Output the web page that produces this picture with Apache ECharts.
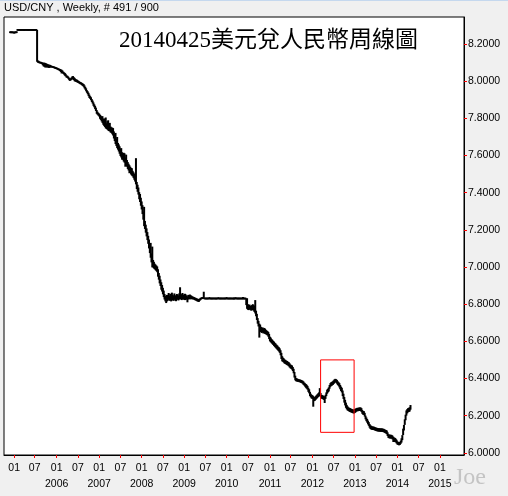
<!DOCTYPE html>
<html>
<head>
<meta charset="utf-8">
<script src="https://cdn.jsdelivr.net/npm/echarts@6/dist/echarts.min.js"></script>
<style>
html,body{margin:0;padding:0;background:#f0f0f0;}
#chart{width:508px;height:496px;}
</style>
</head>
<body>
<div id="chart"></div>
<script>
// ---- data ----
const headerText = 'USD/CNY , Weekly, # 491 / 900';
const titleText = '20140425美元兌人民幣周線圖';
const firstWeek = '2004-12-03';   // first weekly bar (Friday)
const leadWeeks = 7;              // empty slots before the first bar
const totalSlots = 563;           // slots on the time axis (incl. empty future weeks)
const lastClose = 6.2529;
const yTicks = [6.0, 6.2, 6.4, 6.6, 6.8, 7.0, 7.2, 7.4, 7.6, 7.8, 8.0, 8.2];
const yMin = 5.988, yMax = 8.346;
const boxWeeks = [380, 421];      // highlighted period (bar offsets)
const boxRange = [6.50, 6.11];

const weeklyLow = [
/*000*/ 8.2630,8.2625,8.2630,8.2620,8.2625,8.2580,8.2620,8.2625,8.2630,8.2760,
/*010*/ 8.2762,8.2760,8.2761,8.2762,8.2760,8.2761,8.2762,8.2760,8.2761,8.2762,
/*020*/ 8.2760,8.2761,8.2762,8.2760,8.2761,8.2762,8.2760,8.2761,8.2762,8.2760,
/*030*/ 8.2761,8.2762,8.2760,8.1050,8.1000,8.0980,8.0970,8.0960,8.0950,8.0920,
/*040*/ 8.0860,8.0800,8.0780,8.0740,8.0760,8.0740,8.0760,8.0720,8.0720,8.0740,
/*050*/ 8.0760,8.0740,8.0740,8.0720,8.0700,8.0680,8.0670,8.0650,8.0620,8.0600,
/*060*/ 8.0580,8.0550,8.0500,8.0420,8.0450,8.0400,8.0360,8.0300,8.0260,8.0200,
/*070*/ 8.0180,8.0140,8.0080,8.0020,8.0040,8.0080,8.0100,8.0120,8.0060,8.0000,
/*080*/ 7.9980,7.9960,7.9940,7.9920,7.9900,7.9860,7.9840,7.9820,7.9780,7.9750,
/*090*/ 7.9700,7.9620,7.9550,7.9460,7.9380,7.9300,7.9200,7.9100,7.9050,7.8980,
/*100*/ 7.8880,7.8800,7.8680,7.8600,7.8500,7.8400,7.8250,7.8200,7.8150,7.8100,
/*110*/ 7.7980,7.7920,7.7840,7.7760,7.7660,7.7600,7.7540,7.7470,7.7430,7.7400,
/*120*/ 7.7350,7.7320,7.7300,7.7240,7.7220,7.7150,7.7080,7.6920,7.6780,7.6620,
/*130*/ 7.6520,7.6400,7.6320,7.6220,7.6100,7.5980,7.5900,7.5780,7.5780,7.5680,
/*140*/ 7.5620,7.5400,7.5480,7.5400,7.5280,7.5200,7.5050,7.5080,7.4980,7.4920,
/*150*/ 7.4880,7.4800,7.4700,7.4600,7.4450,7.4200,7.4050,7.3900,7.3650,7.3500,
/*160*/ 7.3300,7.3100,7.2850,7.2550,7.2200,7.2050,7.1850,7.1650,7.1450,7.1250,
/*170*/ 7.1000,7.0750,7.0500,7.0250,6.9980,6.9980,6.9920,6.9880,6.9830,6.9780,
/*180*/ 6.9720,6.9480,6.9320,6.9120,6.8980,6.8780,6.8680,6.8530,6.8380,6.8250,
/*190*/ 6.8150,6.8060,6.8150,6.8200,6.8250,6.8180,6.8220,6.8150,6.8250,6.8200,
/*200*/ 6.8180,6.8260,6.8200,6.8160,6.8220,6.8280,6.8200,6.8250,6.8300,6.8260,
/*210*/ 6.8220,6.8280,6.8240,6.8260,6.8220,6.8280,6.8240,6.8100,6.8250,6.8280,
/*220*/ 6.8260,6.8300,6.8260,6.8280,6.8250,6.8260,6.8220,6.8200,6.8180,6.8150,
/*230*/ 6.8140,6.8120,6.8180,6.8220,6.8260,6.8280,6.8290,6.8300,6.8270,6.8268,
/*240*/ 6.8270,6.8265,6.8272,6.8268,6.8270,6.8262,6.8270,6.8268,6.8271,6.8266,
/*250*/ 6.8270,6.8268,6.8265,6.8272,6.8269,6.8270,6.8264,6.8270,6.8268,6.8271,
/*260*/ 6.8268,6.8270,6.8266,6.8270,6.8272,6.8268,6.8265,6.8270,6.8269,6.8271,
/*270*/ 6.8268,6.8270,6.8265,6.8270,6.8268,6.8266,6.8270,6.8272,6.8268,6.8270,
/*280*/ 6.8268,6.8270,6.8265,6.8270,6.8268,6.8260,6.8270,6.8268,6.8266,6.7950,
/*290*/ 6.7750,6.7700,6.7680,6.7720,6.7700,6.7650,6.7680,6.7700,6.7650,6.7580,
/*300*/ 6.7500,6.7350,6.7150,6.6950,6.6800,6.6200,6.6550,6.6500,6.6450,6.6500,
/*310*/ 6.6420,6.6450,6.6400,6.6380,6.6350,6.6320,6.6250,6.6120,6.6000,6.5950,
/*320*/ 6.5900,6.5850,6.5800,6.5750,6.5700,6.5650,6.5600,6.5550,6.5500,6.5450,
/*330*/ 6.5380,6.5250,6.5050,6.4920,6.4900,6.4850,6.4800,6.4780,6.4750,6.4720,
/*340*/ 6.4700,6.4660,6.4600,6.4550,6.4520,6.4480,6.4400,6.4280,6.4050,6.3900,
/*350*/ 6.3850,6.3840,6.3820,6.3820,6.3800,6.3790,6.3770,6.3750,6.3720,6.3660,
/*360*/ 6.3620,6.3560,6.3500,6.3450,6.3400,6.3280,6.3200,6.3050,6.2980,6.2920,
/*370*/ 6.2900,6.2480,6.2780,6.2800,6.2850,6.2900,6.2950,6.3000,6.3050,6.3080,
/*380*/ 6.3000,6.2920,6.2900,6.2880,6.2850,6.2680,6.2900,6.3050,6.3180,6.3250,
/*390*/ 6.3300,6.3450,6.3550,6.3600,6.3620,6.3650,6.3700,6.3750,6.3800,6.3780,
/*400*/ 6.3720,6.3650,6.3600,6.3520,6.3420,6.3320,6.3250,6.3050,6.2900,6.2700,
/*410*/ 6.2550,6.2420,6.2340,6.2280,6.2250,6.2220,6.2200,6.2180,6.2160,6.2140,
/*420*/ 6.2120,6.2120,6.2150,6.2180,6.2220,6.2240,6.2240,6.2250,6.2260,6.2250,
/*430*/ 6.2200,6.2100,6.2050,6.2040,6.1950,6.1800,6.1700,6.1620,6.1530,6.1450,
/*440*/ 6.1350,6.1280,6.1250,6.1240,6.1230,6.1230,6.1210,6.1190,6.1170,6.1160,
/*450*/ 6.1150,6.1140,6.1140,6.1130,6.1130,6.1130,6.1120,6.1110,6.1090,6.1060,
/*460*/ 6.1040,6.1000,6.0900,6.0800,6.0780,6.0770,6.0770,6.0760,6.0720,6.0580,
/*470*/ 6.0620,6.0580,6.0560,6.0500,6.0440,6.0420,6.0400,6.0420,6.0480,6.0550,
/*480*/ 6.0680,6.0950,6.1200,6.1500,6.1750,6.2000,6.2120,6.2180,6.2200,6.2220,
/*490*/ 6.2320
];
const weeklyHigh = [
/*000*/ 8.2650,8.2650,8.2645,8.2650,8.2640,8.2645,8.2650,8.2650,8.2655,8.2768,
/*010*/ 8.2768,8.2767,8.2768,8.2769,8.2768,8.2767,8.2768,8.2768,8.2767,8.2769,
/*020*/ 8.2768,8.2767,8.2768,8.2768,8.2769,8.2768,8.2767,8.2768,8.2768,8.2767,
/*030*/ 8.2768,8.2768,8.2767,8.2765,8.1120,8.1100,8.1060,8.1040,8.1040,8.1020,
/*040*/ 8.1000,8.1000,8.1000,8.0980,8.0960,8.0940,8.0920,8.0900,8.0890,8.0880,
/*050*/ 8.0840,8.0830,8.0810,8.0800,8.0790,8.0770,8.0750,8.0740,8.0720,8.0700,
/*060*/ 8.0680,8.0660,8.0640,8.0620,8.0580,8.0520,8.0480,8.0450,8.0400,8.0320,
/*070*/ 8.0300,8.0260,8.0200,8.0140,8.0160,8.0200,8.0260,8.0280,8.0220,8.0180,
/*080*/ 8.0120,8.0100,8.0080,8.0040,8.0020,7.9980,7.9960,7.9940,7.9900,7.9880,
/*090*/ 7.9850,7.9780,7.9700,7.9620,7.9520,7.9460,7.9380,7.9280,7.9200,7.9140,
/*100*/ 7.9040,7.8960,7.8860,7.8760,7.8680,7.8580,7.8450,7.8360,7.8300,7.8260,
/*110*/ 7.8200,7.8150,7.8100,7.8120,7.7960,7.8000,7.7800,7.8050,7.7740,7.7850,
/*120*/ 7.7900,7.7620,7.7760,7.7560,7.7520,7.7500,7.7480,7.7300,7.7160,7.7220,
/*130*/ 7.6900,7.7000,7.6680,7.6600,7.6500,7.6380,7.6400,7.6180,7.6100,7.6150,
/*140*/ 7.6120,7.5900,7.6050,7.5760,7.5650,7.5560,7.5480,7.5400,7.5340,7.5320,
/*150*/ 7.5180,7.5100,7.5030,7.4930,7.5860,7.4580,7.4430,7.4280,7.4030,7.3930,
/*160*/ 7.3730,7.3530,7.3330,7.2980,7.3240,7.2480,7.2280,7.2080,7.1880,7.1680,
/*170*/ 7.1480,7.1230,7.1300,7.0730,7.1100,7.0380,7.0280,7.0180,7.0130,7.0080,
/*180*/ 7.0030,6.9880,6.9680,6.9530,6.9330,6.9180,6.9030,6.8880,6.8730,6.8550,
/*190*/ 6.8450,6.8450,6.8500,6.8480,6.8600,6.8450,6.8560,6.8420,6.8620,6.8500,
/*200*/ 6.8450,6.8580,6.8480,6.8400,6.8550,6.8520,6.8460,6.8580,6.8910,6.8560,
/*210*/ 6.8500,6.8600,6.8520,6.8480,6.8560,6.8520,6.8450,6.8400,6.8500,6.8460,
/*220*/ 6.8520,6.8480,6.8450,6.8420,6.8400,6.8380,6.8360,6.8340,6.8320,6.8300,
/*230*/ 6.8280,6.8260,6.8300,6.8340,6.8360,6.8380,6.8370,6.8670,6.8345,6.8342,
/*240*/ 6.8340,6.8345,6.8338,6.8342,6.8380,6.8340,6.8344,6.8339,6.8342,6.8345,
/*250*/ 6.8340,6.8343,6.8340,6.8338,6.8345,6.8375,6.8341,6.8340,6.8344,6.8339,
/*260*/ 6.8342,6.8340,6.8344,6.8341,6.8339,6.8380,6.8343,6.8340,6.8342,6.8338,
/*270*/ 6.8345,6.8340,6.8342,6.8339,6.8341,6.8344,6.8376,6.8340,6.8342,6.8341,
/*280*/ 6.8343,6.8340,6.8345,6.8342,6.8340,6.8385,6.8341,6.8339,6.8342,6.8300,
/*290*/ 6.8320,6.8000,6.7950,6.7980,6.7920,6.7900,6.7950,6.8000,6.7950,6.7900,
/*300*/ 6.8220,6.7650,6.7480,6.7250,6.7100,6.6950,6.6900,6.6780,6.6720,6.6750,
/*310*/ 6.6680,6.6720,6.6680,6.6620,6.6580,6.6550,6.6500,6.6400,6.6250,6.6200,
/*320*/ 6.6120,6.6080,6.6020,6.5980,6.5920,6.5880,6.5820,6.5780,6.5720,6.5680,
/*330*/ 6.5620,6.5520,6.5380,6.5200,6.5120,6.5080,6.5020,6.5000,6.4960,6.4940,
/*340*/ 6.4900,6.4880,6.4820,6.4760,6.4720,6.4700,6.4620,6.4520,6.4350,6.4150,
/*350*/ 6.4020,6.4000,6.3980,6.3960,6.3950,6.3940,6.3920,6.3900,6.3880,6.3840,
/*360*/ 6.3780,6.3740,6.3700,6.3660,6.3600,6.3500,6.3420,6.3280,6.3180,6.3120,
/*370*/ 6.3100,6.3050,6.2980,6.3000,6.3050,6.3100,6.3150,6.3200,6.3250,6.3480,
/*380*/ 6.3220,6.3120,6.3100,6.3080,6.3050,6.3020,6.3120,6.3250,6.3400,6.3450,
/*390*/ 6.3520,6.3650,6.3750,6.3800,6.3820,6.3850,6.3900,6.3950,6.3980,6.3960,
/*400*/ 6.3920,6.3850,6.3800,6.3750,6.3650,6.3560,6.3500,6.3350,6.3180,6.3000,
/*410*/ 6.2850,6.2700,6.2580,6.2500,6.2450,6.2420,6.2400,6.2380,6.2360,6.2340,
/*420*/ 6.2320,6.2320,6.2350,6.2380,6.2400,6.2420,6.2420,6.2430,6.2440,6.2440,
/*430*/ 6.2400,6.2300,6.2250,6.2240,6.2150,6.2000,6.1900,6.1820,6.1730,6.1650,
/*440*/ 6.1550,6.1480,6.1450,6.1420,6.1410,6.1410,6.1390,6.1370,6.1350,6.1340,
/*450*/ 6.1330,6.1320,6.1320,6.1310,6.1310,6.1310,6.1300,6.1290,6.1270,6.1240,
/*460*/ 6.1220,6.1200,6.1100,6.1000,6.0980,6.0970,6.0970,6.0960,6.0920,6.0860,
/*470*/ 6.0820,6.0800,6.0760,6.0700,6.0620,6.0580,6.0550,6.0580,6.0650,6.0780,
/*480*/ 6.0950,6.1300,6.1500,6.1800,6.2050,6.2280,6.2350,6.2400,6.2420,6.2450,
/*490*/ 6.2570
];

// ---- categories: weekly dates ----
const DAY = 86400000;
const [fy, fm, fd] = firstWeek.split('-').map(Number);
const startMs = Date.UTC(fy, fm - 1, fd) - leadWeeks * 7 * DAY;
const categories = [];
for (let i = 0; i < totalSlots; i++) {
  categories.push(new Date(startMs + i * 7 * DAY).toISOString().slice(0, 10));
}
function isHalfYearStart(idx) {
  const d = categories[idx];
  const m = d.slice(5, 7);
  return (m === '01' || m === '07') && +d.slice(8, 10) <= 7 && d < '2015-06';
}
// the first tick on the axis carries no year caption
const firstTickDate = categories.find((c, i) => isHalfYearStart(i));

const seriesData = weeklyLow.map((lo, i) => [categories[leadWeeks + i], lo, weeklyHigh[i]]);

const chart = echarts.init(document.getElementById('chart'), null, {renderer: 'canvas'});
const FONT = "'Liberation Sans', Arial, sans-serif";
chart.setOption({
  animation: false,
  backgroundColor: '#f0f0f0',
  textStyle: {fontFamily: FONT},
  grid: {left: 4, top: 17, width: 460, height: 438, show: true, backgroundColor: '#ffffff', borderColor: '#000', borderWidth: 1},
  xAxis: {
    type: 'category',
    data: categories,
    boundaryGap: true,
    axisLine: {show: true, lineStyle: {color: '#000', width: 1}},
    axisTick: {show: true, length: 3, alignWithLabel: true, interval: isHalfYearStart, lineStyle: {color: '#ff0000'}},
    axisLabel: {
      interval: isHalfYearStart,
      margin: 5,
      color: '#000',
      fontSize: 10.5,
      lineHeight: 16,
      fontFamily: FONT,
      formatter: function (v) {
        const m = v.slice(5, 7), y = v.slice(0, 4);
        return (m === '01' && v !== firstTickDate) ? m + '\n' + y : m;
      }
    },
    splitLine: {show: false}
  },
  yAxis: {
    type: 'value',
    position: 'right',
    min: yMin,
    max: yMax,
    axisLine: {show: true, lineStyle: {color: '#000', width: 1}},
    axisTick: {show: true, length: 3, customValues: yTicks, lineStyle: {color: '#ff0000'}},
    axisLabel: {customValues: yTicks, margin: 4, color: '#000', fontSize: 10.5, fontFamily: FONT, formatter: v => v.toFixed(4)},
    splitLine: {show: false}
  },
  series: [{
    type: 'custom',
    data: seriesData,
    encode: {x: 0, y: [1, 2]},
    clip: true,
    renderItem: function (params, api) {
      const x = api.value(0);
      const p1 = api.coord([x, api.value(1)]);
      const p2 = api.coord([x, api.value(2)]);
      let y1 = p1[1], y2 = p2[1];
      if (y1 - y2 < 1.8) { const m = (y1 + y2) / 2; y1 = m + 0.9; y2 = m - 0.9; }
      return {type: 'line', shape: {x1: p1[0], y1: y1, x2: p1[0], y2: y2}, style: {stroke: '#000', lineWidth: 2}};
    },
    markArea: {
      silent: true,
      z: 10,
      itemStyle: {color: 'rgba(0,0,0,0)', borderColor: '#ff0000', borderWidth: 1},
      data: [[{coord: [categories[leadWeeks + boxWeeks[0]], boxRange[0]]}, {coord: [categories[leadWeeks + boxWeeks[1]], boxRange[1]]}]]
    },
    markLine: {
      silent: true,
      symbol: 'none',
      lineStyle: {opacity: 0},
      data: [{yAxis: lastClose}],
      label: {
        position: 'end', distance: 3,
        formatter: lastClose.toFixed(4),
        color: '#0000ff', fontSize: 10.5, fontFamily: FONT,
        borderColor: '#ff0000', borderWidth: 1, padding: [1, 2, 0, 2]
      }
    }
  }],
  graphic: [
    {type: 'rect', left: 0, top: 0, shape: {width: 508, height: 1}, style: {fill: '#c5d8ee'}, silent: true},
    {type: 'text', left: 4, top: 2, style: {text: headerText, fill: '#000', font: "11px 'Liberation Sans', Arial, sans-serif"}},
    {type: 'text', x: 119, y: 41, style: {text: titleText, fill: '#000', textVerticalAlign: 'middle', font: "23px 'Liberation Serif', 'Noto Sans CJK TC', serif"}, z: 20},
    {type: 'text', x: 454, y: 478, style: {text: 'Joe', fill: '#c4c4c4', textVerticalAlign: 'middle', font: "24px 'Liberation Serif', serif"}, z: 20}
  ]
});
</script>
</body>
</html>
